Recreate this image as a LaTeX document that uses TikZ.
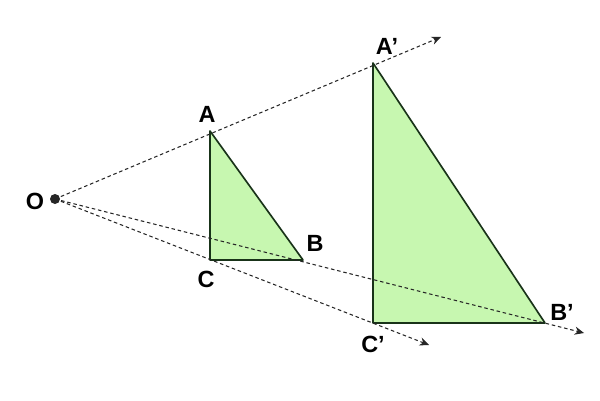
\documentclass[tikz,border=0pt]{standalone}
\usepackage{fontspec}
\setmainfont{Liberation Sans}
\usetikzlibrary{arrows.meta}
\definecolor{green1}{rgb}{0.78,0.97,0.69}
\definecolor{green2}{rgb}{0.1,0.2,0.1}
\definecolor{grey1}{rgb}{0.15,0.15,0.15}
\tikzset{
  ray/.style={dash pattern=on 3pt off 2.4pt, color=grey1, line width=0.9pt, -{Stealth[length=8pt,width=7pt]}},
  tri/.style={fill=green1, draw=green2, line width=1.4pt, line join=round},
  lab/.style={font=\fontsize{20}{22}\selectfont\bfseries, inner sep=0pt}
}
\begin{document}
\begin{tikzpicture}[x=0.03cm, y=-0.03cm]
\useasboundingbox (0,0) rectangle (600,400);
\coordinate (O) at (55,199);
\coordinate (A) at (210,131);
\coordinate (B) at (303,260);
\coordinate (C) at (210,260);
\coordinate (A2) at (373,63);
\coordinate (B2) at (545,323);
\coordinate (C2) at (373,323);
\coordinate (Aend) at (441,37);
\coordinate (Bend) at (584,333);
\coordinate (Cend) at (429,345);
% triangles
\draw[tri] (A) -- (B) -- (C) -- cycle;
\draw[tri] (A2) -- (B2) -- (C2) -- cycle;
% rays from O
\draw[ray] (O) -- (Aend);
\draw[ray] (O) -- (Bend);
\draw[ray] (O) -- (Cend);
\fill[grey1] (O) circle (5);
% labels
\node[lab] (lO) at (35,201) {O};
\node[lab] (lA) at (207,114) {A};
\node[lab] (lB) at (315,243) {B};
\node[lab] (lC) at (206,279) {C};
\node[lab] (lA2) at (387,46) {A’};
\node[lab] (lB2) at (562,312) {B’};
\node[lab] (lC2) at (373,344) {C’};
\end{tikzpicture}
\end{document}
